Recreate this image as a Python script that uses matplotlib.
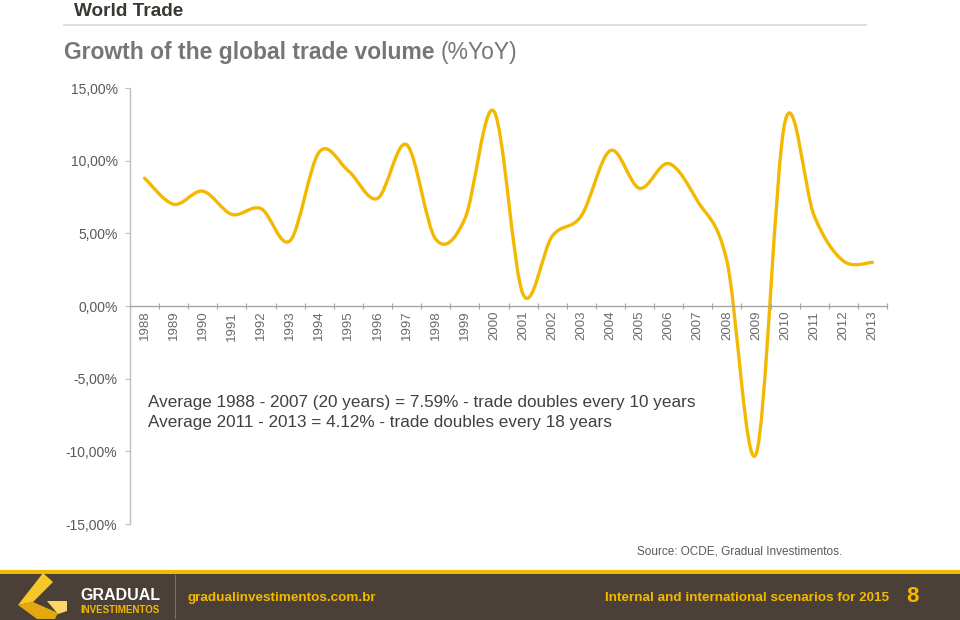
import numpy as np
import matplotlib
matplotlib.use("Agg")
import matplotlib.pyplot as plt
from matplotlib.path import Path
from matplotlib.patches import PathPatch, Rectangle, Polygon
from matplotlib.lines import Line2D
from matplotlib.ticker import FuncFormatter, FixedLocator

plt.rcParams['font.family'] = ['Liberation Sans', 'DejaVu Sans']

years = [str(y) for y in range(1988, 2014)]
growth = [8.8, 7.0, 7.9, 6.3, 6.7, 4.5, 10.6, 9.3, 7.4, 11.1,
          4.6, 6.0, 13.4, 0.8, 4.8, 6.2, 10.7, 8.1, 9.8, 7.2,
          3.1, -10.2, 12.7, 6.2, 3.1, 3.0]
y_ticks = [-15, -10, -5, 0, 5, 10, 15]
notes = ["Average 1988 - 2007 (20 years) = 7.59% - trade doubles every 10 years",
         "Average 2011 - 2013 = 4.12% - trade doubles every 18 years"]

GOLD = "#F2B900"
GRAY = "#595959"
AXIS = "#BFBFBF"
BROWN = "#4B4038"

W, H = 960, 620
fig = plt.figure(figsize=(W / 100, H / 100), dpi=100)
fig.patch.set_facecolor("white")


def fx(px):
    return px / W


def fy(py):
    return 1 - py / H


# header
fig.text(fx(74), fy(11), "World Trade", fontsize=13.7, fontweight="bold",
         color="#3B3733", va="center", ha="left")
fig.add_artist(Line2D([fx(64), fx(866)], [fy(24.5), fy(24.5)], color="#D9D9D9", lw=1.2))
t1 = fig.text(fx(64), fy(52), "Growth of the global trade volume ", fontsize=16.5,
              fontweight="bold", color="#767676", va="center", ha="left")
fig.add_artist(plt.Annotation("(%YoY)", xy=(1, 0.5), xycoords=t1, va="center", ha="left",
                              fontsize=16.5, color="#767676"))

# chart
ax = fig.add_axes([fx(130), fy(524), fx(887) - fx(130), fy(88) - fy(524)])
ax.set_facecolor("none")
n = len(growth)
x = np.arange(n)
pts = np.column_stack([x, growth]).astype(float)

# smoothed line (Excel-style bezier through the data points)
verts = [tuple(pts[0])]
codes = [Path.MOVETO]
for i in range(n - 1):
    p0 = pts[i - 1] if i > 0 else pts[i]
    p3 = pts[i + 2] if i + 2 < n else pts[i + 1]
    c1 = pts[i] + (pts[i + 1] - p0) / 6
    c2 = pts[i + 1] - (p3 - pts[i]) / 6
    verts += [tuple(c1), tuple(c2), tuple(pts[i + 1])]
    codes += [Path.CURVE4] * 3
ax.add_patch(PathPatch(Path(verts, codes), fill=False, edgecolor=GOLD, lw=2.4,
                       capstyle="round", joinstyle="round"))

ax.set_xlim(-0.5, n - 0.5)
ax.set_ylim(-15, 15)
ax.set_yticks(y_ticks)
ax.yaxis.set_major_formatter(FuncFormatter(lambda v, p: f"{v:.2f}%".replace(".", ",")))
ax.tick_params(axis="y", colors=AXIS, labelcolor=GRAY, labelsize=10, length=3.5,
               width=0.8, pad=5.5)

ax.set_xticks(x)
ax.set_xticklabels(years)
ax.xaxis.set_minor_locator(FixedLocator(np.arange(-0.5, n, 1)))
ax.tick_params(axis="x", which="major", length=0, labelcolor="#6A6A6A", labelsize=9.5,
               pad=3.5, labelrotation=90)
ax.tick_params(axis="x", which="minor", colors="#A6A6A6", direction="inout", length=5,
               width=0.8)

for s in ["top", "right"]:
    ax.spines[s].set_visible(False)
ax.spines["left"].set_color(AXIS)
ax.spines["left"].set_linewidth(1.0)
ax.spines["bottom"].set_position(("data", 0))
ax.spines["bottom"].set_color("#A6A6A6")
ax.spines["bottom"].set_linewidth(1.0)

fig.text(fx(148), fy(402), notes[0], fontsize=12.3, color="#404040", va="center")
fig.text(fx(148), fy(422), notes[1], fontsize=12.3, color="#404040", va="center")
fig.text(fx(842), fy(552), "Source: OCDE, Gradual Investimentos.", fontsize=8.5,
         color=GRAY, va="center", ha="right")

# footer
fig.add_artist(Rectangle((0, 0), 1, fy(573), transform=fig.transFigure,
                         facecolor=BROWN, edgecolor="none"))
fig.add_artist(Rectangle((0, fy(574)), 1, fy(570) - fy(574), transform=fig.transFigure,
                         facecolor=GOLD, edgecolor="none"))


def poly(p, c):
    fig.add_artist(Polygon([(fx(a), fy(b)) for a, b in p], closed=True,
                           transform=fig.transFigure, facecolor=c, edgecolor="none"))


# logo
poly([(43, 573), (53, 582), (33, 602), (18, 605)], "#F7C62A")
poly([(18, 605), (33, 602), (58, 613), (55, 619), (37, 619)], "#E2A80E")
poly([(47, 601), (67, 601), (67, 611), (58, 614)], "#FBD765")

fig.text(fx(80), fy(595), "GRADUAL", fontsize=11.5, fontweight="bold", color="white",
         va="center", ha="left")
fig.text(fx(80), fy(610), "INVESTIMENTOS", fontsize=7, fontweight="bold", color=GOLD,
         va="center", ha="left")
fig.add_artist(Line2D([fx(175), fx(175)], [fy(575), fy(618)], color="#7A7069", lw=0.8))
fig.text(fx(187), fy(598), "gradualinvestimentos.com.br", fontsize=9.7, fontweight="bold",
         color=GOLD, va="center", ha="left")
fig.text(fx(889), fy(598), "Internal and international scenarios for 2015", fontsize=9.7,
         fontweight="bold", color=GOLD, va="center", ha="right")
fig.text(fx(912), fy(597), "8", fontsize=16, fontweight="bold", color=GOLD,
         va="center", ha="center")

fig.savefig("out.png", dpi=100)
